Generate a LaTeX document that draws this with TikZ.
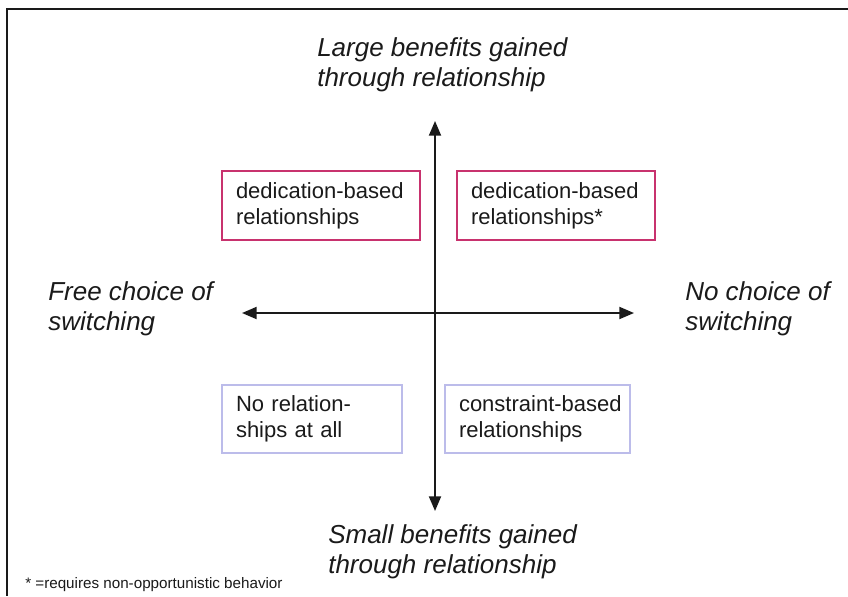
\documentclass[tikz,border=0pt]{standalone}
\usepackage{fontspec}
\setmainfont{Liberation Sans}
\usetikzlibrary{arrows.meta}
\definecolor{pinkline}{HTML}{C8326E}
\definecolor{lavline}{HTML}{BCBCEA}
\definecolor{ink}{HTML}{1A1A1A}
\begin{document}
\begin{tikzpicture}[x=0.75pt,y=-0.75pt,
  axislabel/.style={anchor=north west,inner sep=0pt,align=left,text=ink,
    font=\fontsize{19.5}{23}\selectfont\itshape},
  qbox/.style={draw,line width=1.3pt,minimum height=51.5pt,inner xsep=10.5pt,
    align=left,text=ink,font=\fontsize{16.5}{19.5}\selectfont},
  pinkbox/.style={qbox,draw=pinkline},
  lavbox/.style={qbox,draw=lavline,line width=1.3pt},
  axis/.style={line width=1.4pt,draw=ink,{Triangle[length=11pt,width=9pt]}-{Triangle[length=11pt,width=9pt]}},
  note/.style={anchor=north west,inner sep=0pt,text=ink,font=\fontsize{11.4}{13}\selectfont}]
\useasboundingbox (0,0) rectangle (848,596);
% frame
\coordinate (ftr) at (848,9);
\coordinate (ftl) at (7,9);
\coordinate (fbl) at (7,596);
\draw[line width=1.6pt,draw=ink] (ftr) -- (ftl) -- (fbl);
% axes
\coordinate (vt) at (435,121);
\coordinate (vb) at (435,511);
\coordinate (hl) at (242,313);
\coordinate (hr) at (634,313);
\draw[axis] (vb) -- (vt);
\draw[axis] (hl) -- (hr);
% axis labels
\node[axislabel] (top) at (317,37) {Large benefits gained\\through relationship};
\node[axislabel] (bot) at (328,524) {Small benefits gained\\through relationship};
\node[axislabel] (left) at (48,281) {Free choice of\\switching};
\node[axislabel] (right) at (685,281) {No choice of\\switching};
% boxes
\node[pinkbox,text width=127.5pt] (tl) at (321,205.5) {\mbox{dedication-based}\\\mbox{relationships}};
\node[pinkbox,text width=127.5pt] (tr) at (556,205.5) {\mbox{dedication-based}\\\mbox{relationships*}};
\node[lavbox,text width=114pt] (bl) at (312,419) {\mbox{No relation-}\\\mbox{ships at all}};
\node[lavbox,text width=117.75pt] (br) at (537.5,419) {\mbox{constraint-based}\\\mbox{relationships}};
% footnote
\node[note] (fn) at (25,577) {* =requires non-opportunistic behavior};
\end{tikzpicture}
\end{document}
